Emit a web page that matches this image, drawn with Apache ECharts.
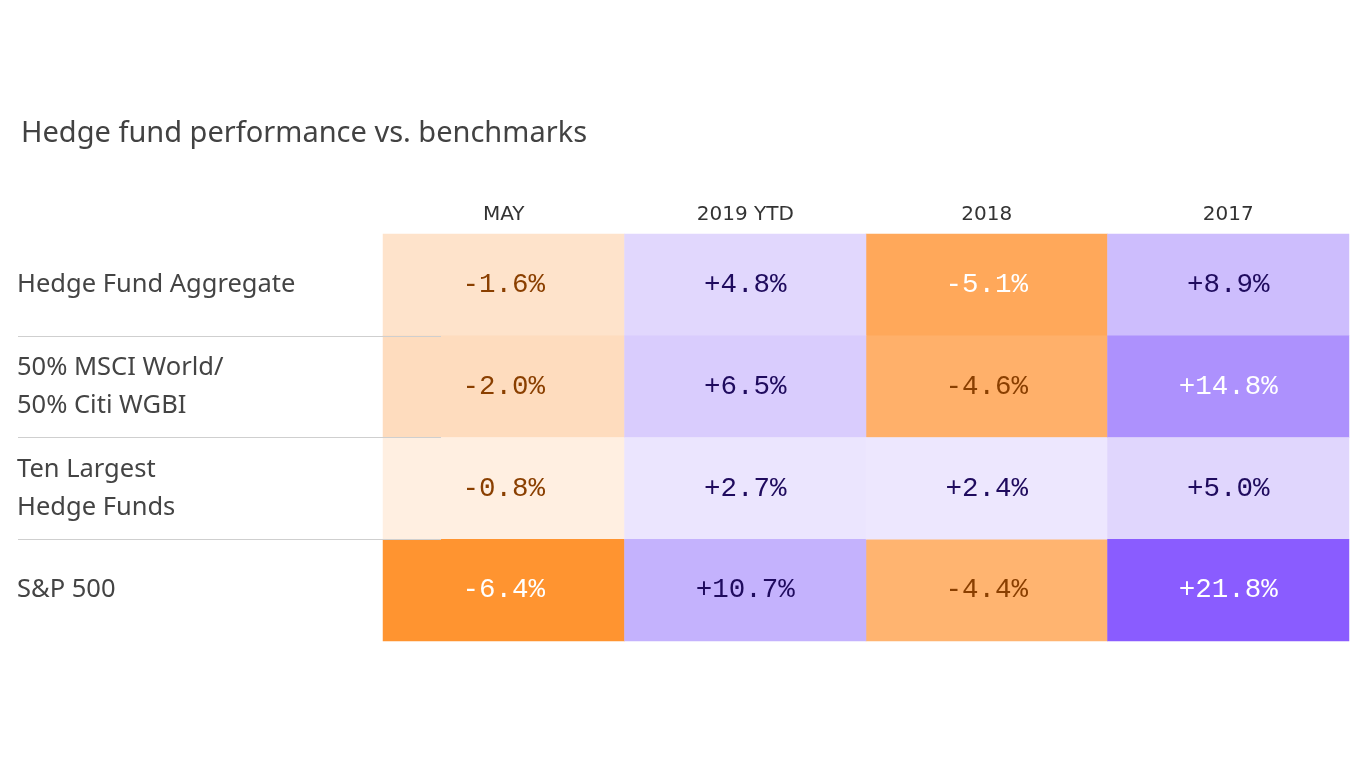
<!DOCTYPE html>
<html>
<head>
<meta charset="utf-8">
<script src="https://cdn.jsdelivr.net/npm/echarts@6/dist/echarts.min.js"></script>
<style>
  html, body { margin: 0; padding: 0; background: #fff; }
  #chart { width: 1366px; height: 768px; }
</style>
</head>
<body>
<div id="chart"></div>
<script>
// rows and columns of the table
var rowNames = ['Hedge Fund Aggregate', '50% MSCI World/\n50% Citi WGBI', 'Ten Largest\nHedge Funds', 'S&P 500'];
var colNames = ['MAY', '2019 YTD', '2018', '2017'];

// returns in %, one array per column (same order as rowNames)
var mayValues = [-1.6, -2.0, -0.8, -6.4];
var ytd2019Values = [4.8, 6.5, 2.7, 10.7];
var y2018Values = [-5.1, -4.6, 2.4, -4.4];
var y2017Values = [8.9, 14.8, 5.0, 21.8];

var columns = [mayValues, ytd2019Values, y2018Values, y2017Values];

var negData = [], posData = [];
columns.forEach(function(col, c) {
	col.forEach(function(v, r) {
		var item = {value: [c, r, v], label: {}};
		if (v < 0) {
			item.label.color = v < -5 ? '#ffffff' : '#8a3f00';
			negData.push(item);
		} else {
			item.label.color = v > 12 ? '#ffffff' : '#1f0b5e';
			posData.push(item);
		}
	});
});

function fmt(p) {
	var v = p.value[2];
	return (v > 0 ? '+' : '-') + Math.abs(v).toFixed(1) + '%';
}

var cellLabel = {
	show: true,
	formatter: fmt,
	fontFamily: 'Liberation Mono',
	fontSize: 27.5
};

var chart = echarts.init(document.getElementById('chart'));
var option = {
	animation: false,
	title: {
		text: 'Hedge fund performance vs. benchmarks',
		left: 16,
		top: 114,
		textStyle: {
			fontFamily: 'Noto Sans',
			fontWeight: 'normal',
			fontSize: 29,
			color: '#424242'
		}
	},
	grid: [
		{left: 383, right: 17, top: 234, bottom: 127},
		// only used for the thin separators under the row names
		{left: 18, width: 423, top: 234, bottom: 127}
	],
	xAxis: [{
		type: 'category',
		data: colNames,
		position: 'top',
		gridIndex: 0,
		axisLine: {show: false},
		axisTick: {show: false},
		axisLabel: {
			margin: 9,
			fontFamily: 'DejaVu Sans',
			fontSize: 20,
			color: '#333'
		}
	}, {
		type: 'value',
		gridIndex: 1,
		show: false
	}],
	yAxis: [{
		type: 'category',
		data: rowNames,
		inverse: true,
		gridIndex: 0,
		axisLine: {show: false},
		axisTick: {show: false},
		axisLabel: {
			margin: 366,
			align: 'left',
			fontFamily: 'Noto Sans',
			fontSize: 25.5,
			lineHeight: 38,
			color: '#444'
		}
	}, {
		type: 'value',
		gridIndex: 1,
		min: 0,
		max: 4,
		interval: 1,
		z: 10,
		axisLine: {show: false},
		axisTick: {show: false},
		axisLabel: {show: false},
		splitLine: {
			show: true,
			showMinLine: false,
			showMaxLine: false,
			lineStyle: {color: '#cfcfcf', width: 1}
		}
	}],
	visualMap: [{
		type: 'continuous',
		show: false,
		seriesIndex: 0,
		min: -6.4,
		max: 0,
		dimension: 2,
		inRange: {color: ['#ff9430', '#ffad64', '#ffc795', '#fee3cb', '#fffaf6']}
	}, {
		type: 'continuous',
		show: false,
		seriesIndex: 1,
		min: 0,
		max: 21.8,
		dimension: 2,
		inRange: {color: ['#f8f6fe', '#ded3fd', '#c3b1fd', '#a484fd', '#8a5cff']}
	}],
	series: [{
		name: 'negative',
		type: 'heatmap',
		data: negData,
		label: cellLabel,
		itemStyle: {borderWidth: 0},
		emphasis: {disabled: true}
	}, {
		name: 'positive',
		type: 'heatmap',
		data: posData,
		label: cellLabel,
		itemStyle: {borderWidth: 0},
		emphasis: {disabled: true}
	}]
};
chart.setOption(option);
</script>
</body>
</html>
